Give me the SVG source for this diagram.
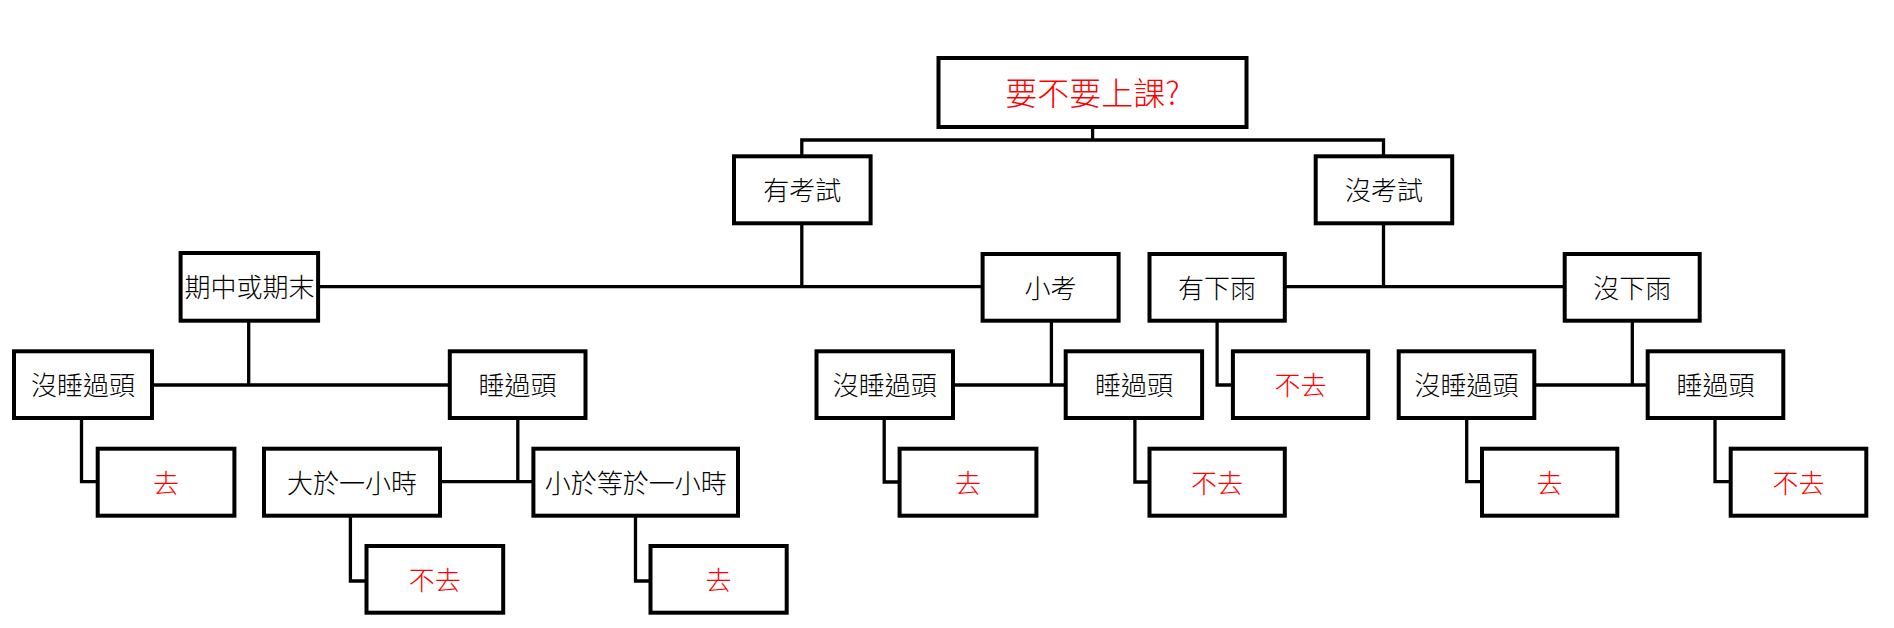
<svg xmlns="http://www.w3.org/2000/svg" width="1894" height="628" viewBox="0 0 1894 628">
<style>
.box{fill:#fff;stroke:#000;stroke-width:4}
.t{font-family:"Noto Sans CJK TC","Noto Sans CJK SC",sans-serif;font-size:26px;font-weight:300;fill:#000;text-anchor:middle;dominant-baseline:central}
.r{fill:#f00}
.big{font-size:32px}
.c{fill:none;stroke:#000;stroke-width:3.3;stroke-linecap:square}
</style>
<rect width="1894" height="628" fill="#fff"/>
<g id="connectors" class="c">
<path d="M1092.6 128.7V140M801.8 154.3V140H1383.5V154.3"/>
<path d="M320 286.7H980.6M801.8 225.3V286.7"/>
<path d="M1286.8 286.7H1562.7M1383.5 225.3V286.7"/>
<path d="M248.7 322.7V385M154 385H447.8"/>
<path d="M1051.4 322.7V385M955 385H1063.7"/>
<path d="M1632.3 322.7V385M1536.3 385H1645.7"/>
<path d="M1217.1 322.7V385H1230.9"/>
<path d="M81.5 420V481.7H95.7"/>
<path d="M517.8 420V481.7M442 481.7H531.4"/>
<path d="M884.2 420V482H897.6"/>
<path d="M1134.9 420V482H1147.5"/>
<path d="M1466.7 420V481.7H1480"/>
<path d="M1715 420V481.7H1728.7"/>
<path d="M350.4 518.7V581H364.5"/>
<path d="M635.5 518.7V581H648.5"/>
</g>
<g id="root"><rect class="box" x="938.5" y="58" width="308" height="69"/><text class="t r big" x="1092.5" y="91">要不要上課?</text></g>
<g id="n-exam"><rect class="box" x="734" y="156.3" width="136.6" height="67"/><text class="t" x="802.3" y="188.5">有考試</text></g>
<g id="n-noexam"><rect class="box" x="1315.7" y="156.3" width="136.5" height="67"/><text class="t" x="1384" y="188.5">沒考試</text></g>
<g id="n-midterm"><rect class="box" x="180.6" y="253" width="137.5" height="67.7"/><text class="t" x="249.4" y="285.5">期中或期末</text></g>
<g id="n-quiz"><rect class="box" x="982.6" y="254" width="136" height="66.7"/><text class="t" x="1050.6" y="286">小考</text></g>
<g id="n-rain"><rect class="box" x="1149.5" y="254" width="135.3" height="66.7"/><text class="t" x="1217.1" y="286">有下雨</text></g>
<g id="n-norain"><rect class="box" x="1564.7" y="254" width="135" height="66.7"/><text class="t" x="1632.2" y="286">沒下雨</text></g>
<g id="n-a-nooversleep"><rect class="box" x="14" y="351.3" width="138" height="66.7"/><text class="t" x="83" y="383.5">沒睡過頭</text></g>
<g id="n-a-oversleep"><rect class="box" x="449.8" y="351.3" width="135.7" height="66.7"/><text class="t" x="517.6" y="383.5">睡過頭</text></g>
<g id="n-b-nooversleep"><rect class="box" x="816.5" y="351.3" width="136.5" height="66.7"/><text class="t" x="884.8" y="383.5">沒睡過頭</text></g>
<g id="n-b-oversleep"><rect class="box" x="1065.7" y="351.3" width="136.4" height="66.7"/><text class="t" x="1133.9" y="383.5">睡過頭</text></g>
<g id="n-rain-no"><rect class="box" x="1232.9" y="351.3" width="135.3" height="66.7"/><text class="t r" x="1300.5" y="383.5">不去</text></g>
<g id="n-c-nooversleep"><rect class="box" x="1398.7" y="351.3" width="135.6" height="66.7"/><text class="t" x="1466.5" y="383.5">沒睡過頭</text></g>
<g id="n-c-oversleep"><rect class="box" x="1647.7" y="351.3" width="135.6" height="66.7"/><text class="t" x="1715.5" y="383.5">睡過頭</text></g>
<g id="n-a-go"><rect class="box" x="97.7" y="448.7" width="136.7" height="67"/><text class="t r" x="166" y="481">去</text></g>
<g id="n-more1h"><rect class="box" x="264" y="448.7" width="176" height="67"/><text class="t" x="352" y="481">大於一小時</text></g>
<g id="n-less1h"><rect class="box" x="533.4" y="448.7" width="204.6" height="67"/><text class="t" x="635.7" y="481">小於等於一小時</text></g>
<g id="n-b-go"><rect class="box" x="899.6" y="448.7" width="136.8" height="67"/><text class="t r" x="968" y="481">去</text></g>
<g id="n-b-no"><rect class="box" x="1149.5" y="448.7" width="135.3" height="67"/><text class="t r" x="1217.1" y="481">不去</text></g>
<g id="n-c-go"><rect class="box" x="1482" y="448.7" width="135.3" height="67"/><text class="t r" x="1549.6" y="481">去</text></g>
<g id="n-c-no"><rect class="box" x="1730.7" y="448.7" width="135.6" height="67"/><text class="t r" x="1798.5" y="481">不去</text></g>
<g id="n-more-no"><rect class="box" x="366.5" y="546" width="136.7" height="66.7"/><text class="t r" x="434.8" y="578">不去</text></g>
<g id="n-less-go"><rect class="box" x="650.5" y="546" width="136.2" height="66.7"/><text class="t r" x="718.6" y="578">去</text></g>
</svg>
